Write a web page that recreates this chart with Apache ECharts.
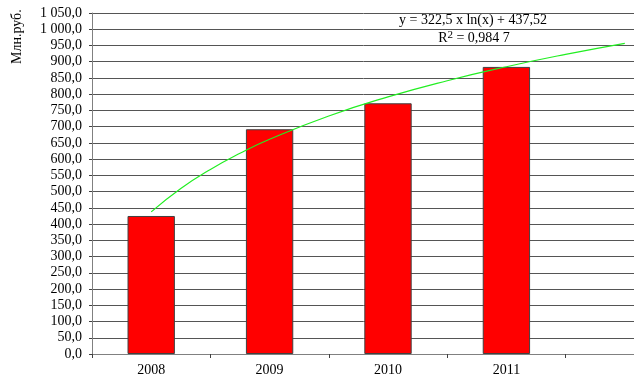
<!DOCTYPE html>
<html>
<head>
<meta charset="utf-8">
<script src="https://cdn.jsdelivr.net/npm/echarts@6/dist/echarts.min.js"></script>
<style>html,body{margin:0;padding:0;background:#fff}#c{width:634px;height:379px}</style>
</head>
<body>
<div id="c"></div>
<script>
var categories = ['2008', '2009', '2010', '2011', ''];
var values = [425, 692, 772, 884, null];
// Trend line points (x = category position, 1 = 2008)
var trendX = [1, 1.25, 1.5, 1.75, 2, 2.5, 3, 3.5, 4, 4.5, 5];
var trendY = [437.5, 509.5, 568.3, 618.0, 661.1, 733.0, 791.8, 841.5, 884.6, 922.6, 956.6];
var yLabelTitle = 'Млн.руб.';
var equationText = 'y = 322,5 x ln(x) + 437,52';
var r2Text = '0,984 7';

var FONT = '"Liberation Serif", "Times New Roman", serif';
function fmt(v) {
  var s = v.toFixed(1).split('.');
  var intPart = s[0].replace(/\B(?=(\d{3})+(?!\d))/g, ' ');
  return intPart + ',' + s[1];
}
var trendData = trendX.map(function (x, i) { return [x, trendY[i]]; });

var chart = echarts.init(document.getElementById('c'), null, {renderer: 'canvas'});
chart.setOption({
  animation: false,
  backgroundColor: '#fff',
  grid: {left: 92, width: 592, top: 13, height: 341, containLabel: false, outerBoundsMode: 'none'},
  xAxis: [{
    type: 'category',
    data: categories,
    boundaryGap: true,
    axisLine: {lineStyle: {color: '#808080', width: 1}},
    axisTick: {show: true, length: 4, lineStyle: {color: '#404040'}},
    axisLabel: {color: '#000', fontFamily: FONT, fontSize: 14, margin: 9},
    splitLine: {show: false}
  }, {
    type: 'value',
    min: 0.5, max: 5.5,
    show: false
  }],
  yAxis: {
    type: 'value',
    min: 0, max: 1050, interval: 50,
    axisLine: {show: true, lineStyle: {color: '#808080', width: 1}},
    axisTick: {show: true, length: 3, lineStyle: {color: '#404040'}},
    axisLabel: {color: '#000', fontFamily: FONT, fontSize: 14, margin: 10, formatter: fmt},
    splitLine: {show: true, lineStyle: {color: '#555', width: 1}}
  },
  series: [{
    type: 'bar',
    data: values,
    barCategoryGap: '60%',
    itemStyle: {color: '#ff0000', borderColor: '#404040', borderWidth: 1}
  }, {
    type: 'line',
    xAxisIndex: 1,
    data: trendData,
    smooth: true,
    symbol: 'none',
    lineStyle: {color: '#22ee22', width: 1.2}
  }],
  graphic: [{
    type: 'text',
    rotation: Math.PI / 2,
    originX: 0, originY: 0,
    style: {text: yLabelTitle, font: '14px ' + FONT, fill: '#000'},
    position: [10, 64]
  }, {
    type: 'text',
    position: [473, 20],
    style: {text: equationText, font: '14px ' + FONT, fill: '#000', textAlign: 'center', textVerticalAlign: 'middle'}
  }, {
    type: 'text',
    position: [474, 38],
    style: {
      text: '{a|R}{s|2}{a| = ' + r2Text + '}',
      textAlign: 'center', textVerticalAlign: 'middle',
      rich: {
        a: {fontFamily: FONT, fontSize: 14, fill: '#000', color: '#000'},
        s: {fontFamily: FONT, fontSize: 11, color: '#000', padding: [0, 0, 6, 0]}
      }
    }
  }]
});
</script>
</body>
</html>
